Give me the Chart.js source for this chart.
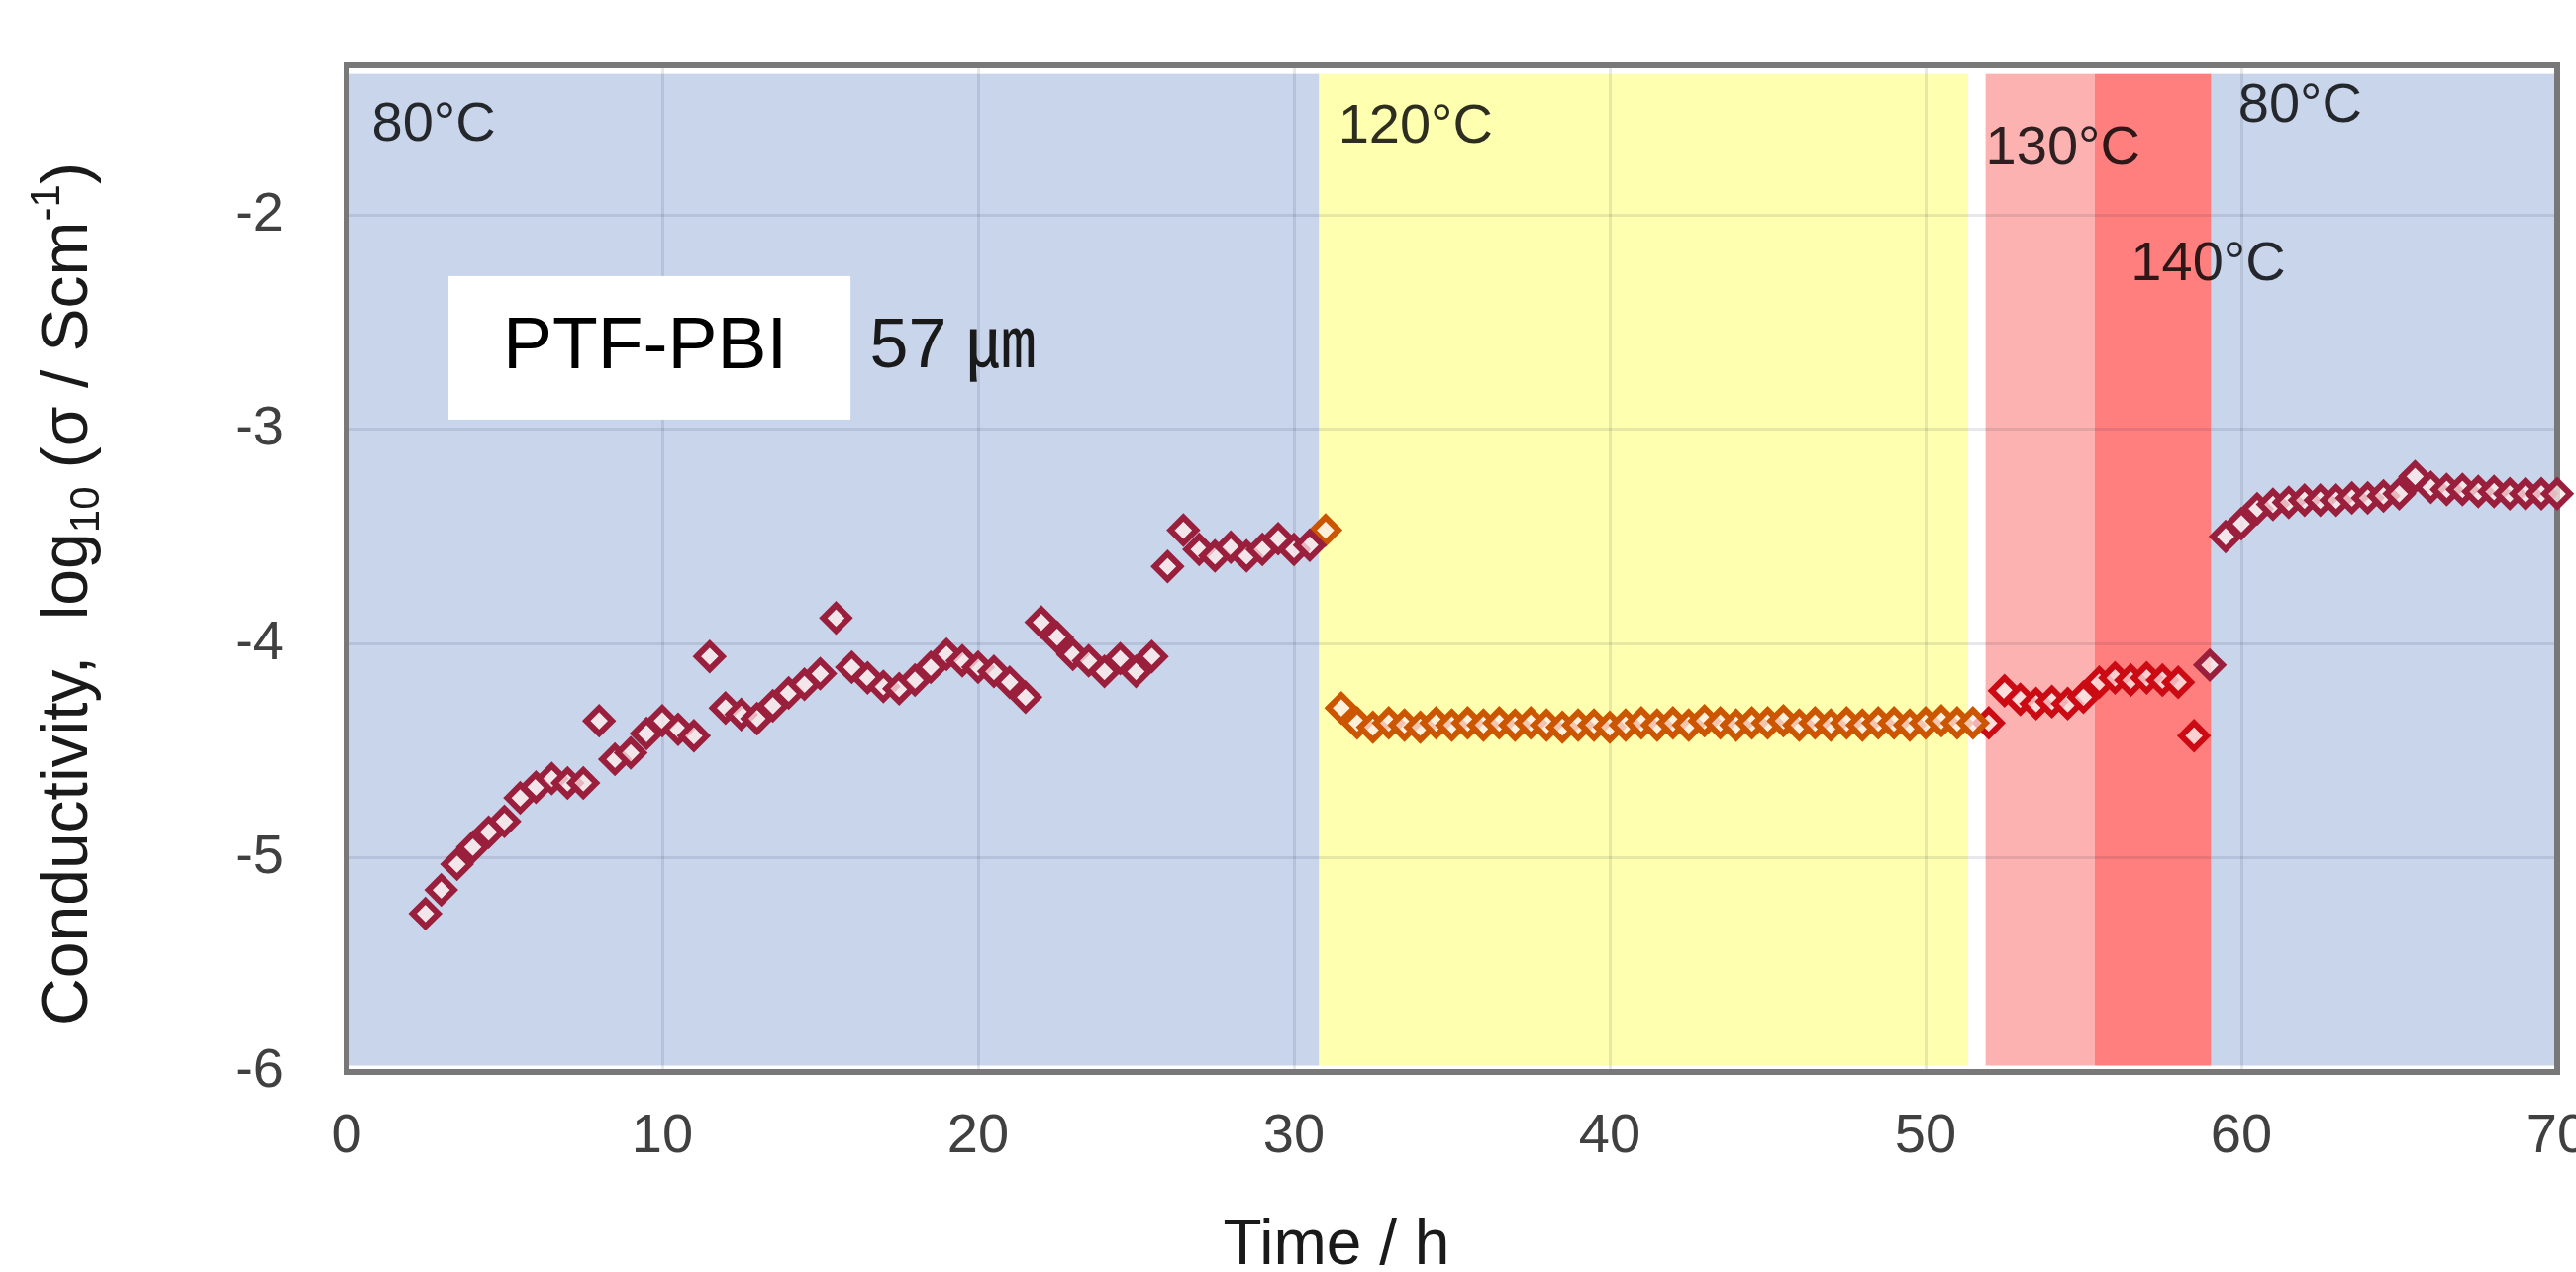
<!DOCTYPE html>
<html>
<head>
<meta charset="utf-8">
<script src="https://cdn.jsdelivr.net/npm/chart.js@4.4.1/dist/chart.umd.min.js"></script>
<style>
  html, body { margin: 0; padding: 0; background: #fff; }
  canvas { display: block; }
</style>
</head>
<body>
<canvas id="cond-chart" width="2602" height="1285"></canvas>
<script>
// time (h) and log10 conductivity
var time80a = [2.5, 3, 3.5, 4, 4.5, 5, 5.5, 6, 6.5, 7, 7.5, 8, 8.5, 9, 9.5, 10, 10.5, 11, 11.5, 12,
    12.5, 13, 13.5, 14, 14.5, 15, 15.5, 16, 16.5, 17, 17.5, 18, 18.5, 19, 19.5, 20, 20.5, 21, 21.5, 22,
    22.5, 23, 23.5, 24, 24.5, 25, 25.5, 26, 26.5, 27, 27.5, 28, 28.5, 29, 29.5, 30, 30.5];
var cond80a = [-5.26, -5.15, -5.03, -4.95, -4.88, -4.83, -4.72, -4.67, -4.63, -4.65, -4.65, -4.36, -4.54, -4.51, -4.42, -4.36, -4.40, -4.43, -4.06, -4.30,
    -4.33, -4.35, -4.29, -4.23, -4.19, -4.14, -3.88, -4.11, -4.16, -4.20, -4.21, -4.17, -4.11, -4.05, -4.08, -4.11, -4.13, -4.18, -4.25, -3.90,
    -3.97, -4.05, -4.08, -4.13, -4.07, -4.13, -4.06, -3.64, -3.47, -3.56, -3.59, -3.55, -3.59, -3.56, -3.51, -3.56, -3.54];

var time120 = [31, 31.5, 32, 32.5, 33, 33.5, 34, 34.5, 35, 35.5, 36, 36.5, 37, 37.5, 38, 38.5, 39, 39.5, 40, 40.5,
    41, 41.5, 42, 42.5, 43, 43.5, 44, 44.5, 45, 45.5, 46, 46.5, 47, 47.5, 48, 48.5, 49, 49.5, 50, 50.5, 51, 51.5];
var cond120 = [-3.47, -4.30, -4.37, -4.39, -4.37, -4.38, -4.39, -4.37, -4.38, -4.37, -4.38, -4.37, -4.38, -4.37, -4.38, -4.39, -4.38, -4.38, -4.39, -4.38,
    -4.37, -4.38, -4.37, -4.38, -4.36, -4.37, -4.38, -4.37, -4.37, -4.36, -4.38, -4.37, -4.38, -4.37, -4.38, -4.37, -4.37, -4.38, -4.37, -4.36, -4.37, -4.37];

var time130 = [52, 52.5, 53, 53.5, 54, 54.5, 55, 55.5, 56, 56.5, 57, 57.5, 58, 58.5];
var cond130 = [-4.37, -4.22, -4.26, -4.28, -4.27, -4.28, -4.25, -4.18, -4.16, -4.17, -4.16, -4.17, -4.18, -4.43];

var time80b = [59, 59.5, 60, 60.5, 61, 61.5, 62, 62.5, 63, 63.5, 64, 64.5, 65, 65.5, 66, 66.5, 67, 67.5, 68, 68.5, 69, 69.5, 70];
var cond80b = [-4.10, -3.50, -3.44, -3.37, -3.35, -3.34, -3.33, -3.33, -3.33, -3.32, -3.32, -3.31, -3.30, -3.22, -3.27, -3.28, -3.28, -3.29, -3.29, -3.30, -3.30, -3.30, -3.30];

// temperature steps
var zoneLabels = ['80°C', '120°C', '130°C', '140°C', '80°C'];
var zoneStart = [0, 30.8, 51.9, 55.35, 59.05];
var zoneEnd = [30.8, 51.35, 55.35, 59.05, 70];

var xTicks = [0, 10, 20, 30, 40, 50, 60, 70];
var yTicks = [-6, -5, -4, -3, -2];

var zoneColors = ['#c9d5eb', '#ffffb0', '#fdb2b2', '#ff7f7f', '#c9d5eb'];
var zoneLabelAt = [[0.8, -1.58], [31.4, -1.59], [51.9, -1.69], [56.5, -2.23], [59.9, -1.49]];
var FONT = "'Liberation Sans', Arial, sans-serif";
var gridColor = 'rgba(20, 30, 60, 0.1)';

function toPoints(ts, vs) {
    return ts.map(function(t, i) { return { x: t, y: vs[i] }; });
}

function makeSet(label, ts, vs, color) {
    return {
        label: label,
        data: toPoints(ts, vs),
        showLine: false,
        pointStyle: 'rectRot',
        pointRadius: 13,
        pointBorderWidth: 6,
        pointBorderColor: color,
        pointBackgroundColor: 'rgba(255,235,235,0.75)',
        clip: false
    };
}

var decor = {
    id: 'decor',
    beforeDraw: function(chart) {
        const { ctx } = chart;
        const x = chart.scales.x, y = chart.scales.y;
        ctx.save();
        ctx.fillStyle = '#fff';
        ctx.fillRect(0, 0, chart.width, chart.height);
        const top = y.getPixelForValue(-1.34);
        const bottom = y.getPixelForValue(-5.97);
        zoneStart.forEach(function(s, i) {
            const x0 = x.getPixelForValue(s);
            const x1 = x.getPixelForValue(zoneEnd[i]);
            ctx.fillStyle = zoneColors[i];
            ctx.fillRect(x0, top, x1 - x0, bottom - top);
        });
        ctx.restore();
    },
    beforeDatasetsDraw: function(chart) {
        const { ctx, chartArea } = chart;
        ctx.save();
        ctx.strokeStyle = '#787878';
        ctx.lineWidth = 6;
        ctx.strokeRect(chartArea.left, chartArea.top, chartArea.right - chartArea.left, chartArea.bottom - chartArea.top);
        ctx.restore();
    },
    afterDraw: function(chart) {
        const { ctx } = chart;
        const x = chart.scales.x, y = chart.scales.y;
        ctx.save();

        // temperature labels
        ctx.textBaseline = 'middle';
        ctx.textAlign = 'left';
        ctx.font = '56px ' + FONT;
        ctx.fillStyle = 'rgba(0,0,0,0.82)';
        zoneLabels.forEach(function(txt, i) {
            ctx.fillText(txt, x.getPixelForValue(zoneLabelAt[i][0]), y.getPixelForValue(zoneLabelAt[i][1]));
        });

        // sample label box
        const bx0 = x.getPixelForValue(3.23), by0 = y.getPixelForValue(-2.284);
        const bx1 = x.getPixelForValue(15.96), by1 = y.getPixelForValue(-2.954);
        ctx.fillStyle = '#fff';
        ctx.fillRect(bx0, by0, bx1 - bx0, by1 - by0);
        ctx.fillStyle = '#000';
        ctx.font = '75px ' + FONT;
        ctx.fillText('PTF-PBI', x.getPixelForValue(4.95), y.getPixelForValue(-2.62));
        ctx.fillStyle = '#1a1a1a';
        ctx.font = "70px " + FONT + ", 'Noto Sans CJK JP'";
        ctx.fillText('57 ㎛', x.getPixelForValue(16.57), y.getPixelForValue(-2.62));

        // x axis title
        ctx.textBaseline = 'alphabetic';
        ctx.textAlign = 'center';
        ctx.fillStyle = '#1a1a1a';
        ctx.font = '64px ' + FONT;
        ctx.fillText('Time / h', 1350, 1277);

        // y axis title, with subscript and superscript
        const segs = [
            { t: 'Conductivity,  log', s: 66, dy: 0 },
            { t: '10', s: 42, dy: 12 },
            { t: ' (σ / Scm', s: 66, dy: 0 },
            { t: '-1', s: 42, dy: -28 },
            { t: ')', s: 66, dy: 0 }
        ];
        let total = 0;
        segs.forEach(function(g) {
            ctx.font = g.s + 'px ' + FONT;
            g.w = ctx.measureText(g.t).width;
            total += g.w;
        });
        ctx.translate(88, 600);
        ctx.rotate(-Math.PI / 2);
        ctx.textAlign = 'left';
        let pos = -total / 2;
        segs.forEach(function(g) {
            ctx.font = g.s + 'px ' + FONT;
            ctx.fillText(g.t, pos, g.dy);
            pos += g.w;
        });
        ctx.restore();
    }
};

const ctx = document.getElementById('cond-chart').getContext('2d');
const condChart = new Chart(ctx, {
    type: 'scatter',
    data: {
        datasets: [
            makeSet('80°C', time80a, cond80a, '#991f3d'),
            makeSet('120°C', time120, cond120, '#cc5500'),
            makeSet('130-140°C', time130, cond130, '#cc0a14'),
            makeSet('80°C (2)', time80b, cond80b, '#991f3d')
        ]
    },
    options: {
        responsive: false,
        animation: false,
        events: [],
        layout: {
            padding: { top: 66, right: 19, bottom: 0, left: 0 }
        },
        plugins: {
            legend: { display: false },
            tooltip: { enabled: false }
        },
        scales: {
            x: {
                type: 'linear',
                min: 0,
                max: 70,
                afterBuildTicks: function(s) {
                    s.ticks = xTicks.map(function(v) { return { value: v }; });
                },
                afterFit: function(s) {
                    s.height = 202;
                    s.paddingLeft = 0;
                    s.paddingRight = 0;
                },
                grid: { color: gridColor, lineWidth: 3, drawTicks: false },
                border: { display: false },
                ticks: {
                    padding: 32,
                    color: '#404040',
                    maxRotation: 0,
                    autoSkip: false,
                    font: { family: FONT, size: 56 }
                }
            },
            y: {
                min: -6,
                max: -1.3,
                afterBuildTicks: function(s) {
                    s.ticks = yTicks.map(function(v) { return { value: v }; });
                },
                afterFit: function(s) {
                    s.width = 350;
                    s.paddingTop = 0;
                    s.paddingBottom = 0;
                },
                grid: { color: gridColor, lineWidth: 3, drawTicks: false },
                border: { display: false },
                ticks: {
                    padding: 63,
                    color: '#404040',
                    font: { family: FONT, size: 56 }
                }
            }
        }
    },
    plugins: [decor]
});
</script>
</body>
</html>
